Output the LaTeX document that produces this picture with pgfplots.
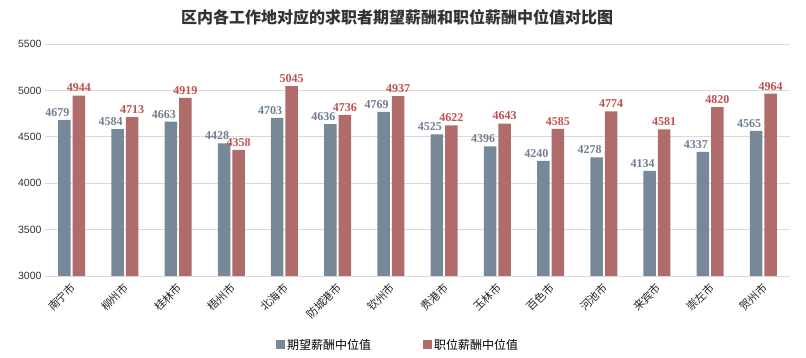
\documentclass[border=0pt]{standalone}
\usepackage{pgfplots}
\pgfplotsset{compat=1.18}
\usepackage{fontspec}
\setmainfont{Liberation Sans}
\newfontfamily\cjk{Noto Sans CJK SC}
\newfontfamily\valfont{Liberation Serif}
\definecolor{cgray}{HTML}{778899}
\definecolor{cred}{HTML}{B06B6B}
\definecolor{lgray}{HTML}{6F7E8F}
\definecolor{lred}{HTML}{C0504D}
\begin{document}
\begin{tikzpicture}
\useasboundingbox (-45pt,-82pt) rectangle (761pt,276pt);
\begin{axis}[
  at={(0pt,0pt)}, anchor=south west,
  scale only axis, width=745pt, height=232pt,
  ybar, bar width=12.5pt,
  xmin=-0.5, xmax=13.5, ymin=3000, ymax=5500,
  ytick={3000,3500,...,5500},
  xtick={0,...,13},
  xticklabels={南宁市,柳州市,桂林市,梧州市,北海市,防城港市,钦州市,贵港市,玉林市,百色市,河池市,来宾市,崇左市,贺州市},
  xticklabel style={rotate=45, anchor=east, font=\cjk\fontsize{11}{11}\selectfont, text=black!85, yshift=-5pt, xshift=1pt},
  yticklabel style={font=\fontsize{10.5}{12}\selectfont, text=black!80},
  /pgf/number format/assume math mode=true,
  /pgf/number format/1000 sep={},
  ymajorgrids, grid style={color=black!15, line width=0.8pt},
  axis line style={draw=none}, tick style={draw=none},
  clip=false,
  legend style={at={(0.474,-0.297)}, anchor=center, draw=none, legend columns=2,
    font=\cjk\fontsize{12}{12}\selectfont, /tikz/every even column/.append style={column sep=50pt}},
  legend image code/.code={\fill[#1] (0pt,-4pt) rectangle (9pt,5pt);},
]
\addplot[fill=cgray, draw=none, bar shift=-7.25pt, nodes near coords,
  every node near coord/.append style={text=lgray, font=\valfont\bfseries\fontsize{12}{12}\selectfont, xshift=-7pt}]
  coordinates {(0,4679) (1,4584) (2,4663) (3,4428) (4,4703) (5,4636) (6,4769) (7,4525) (8,4396) (9,4240) (10,4278) (11,4134) (12,4337) (13,4565)};
\addlegendentry{期望薪酬中位值}
\addplot[fill=cred, draw=none, bar shift=7.25pt, nodes near coords,
  every node near coord/.append style={text=lred, font=\valfont\bfseries\fontsize{12}{12}\selectfont}]
  coordinates {(0,4944) (1,4713) (2,4919) (3,4358) (4,5045) (5,4736) (6,4937) (7,4622) (8,4643) (9,4585) (10,4774) (11,4581) (12,4820) (13,4964)};
\addlegendentry{职位薪酬中位值}
\end{axis}
\node[font=\cjk\bfseries\fontsize{16}{16}\selectfont, text=black!80] at (352pt,259pt) {区内各工作地对应的求职者期望薪酬和职位薪酬中位值对比图};
\end{tikzpicture}
\end{document}
